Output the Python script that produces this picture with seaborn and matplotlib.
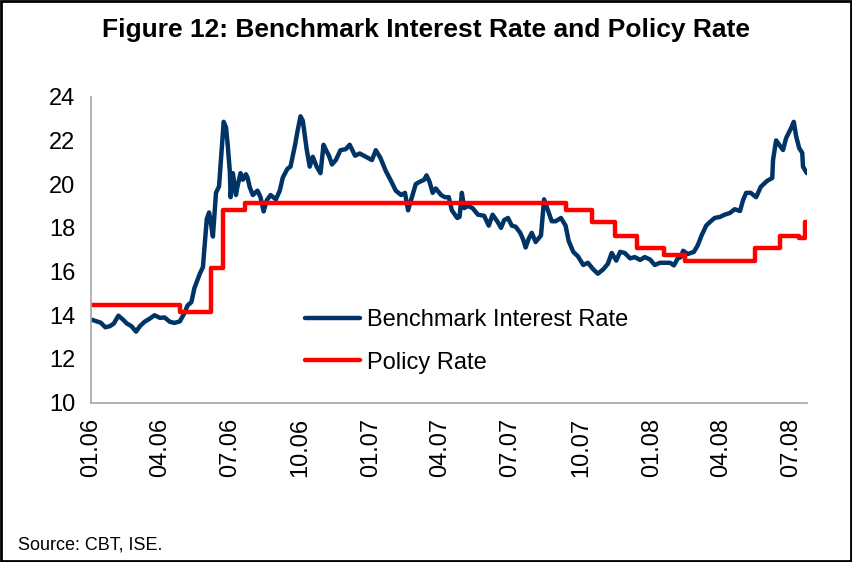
import matplotlib
matplotlib.use("Agg")
import matplotlib.pyplot as plt
import matplotlib.dates as mdates
from matplotlib.patches import Rectangle
import numpy as np
import pandas as pd
import seaborn as sns

sns.set_style("white")
plt.rcParams['font.family'] = ['Liberation Sans', 'DejaVu Sans']
plt.rcParams['text.color'] = 'black'

# benchmark bond rate
bench_dates = [
    "2006-01-02", "2006-01-06", "2006-01-14", "2006-01-20", "2006-01-26", "2006-01-31",
    "2006-02-06", "2006-02-12", "2006-02-17", "2006-02-23", "2006-03-01", "2006-03-06",
    "2006-03-12", "2006-03-19", "2006-03-25", "2006-04-01", "2006-04-07", "2006-04-14",
    "2006-04-20", "2006-04-27", "2006-05-03", "2006-05-07", "2006-05-12", "2006-05-16",
    "2006-05-23", "2006-05-27", "2006-05-29", "2006-06-01", "2006-06-04", "2006-06-06",
    "2006-06-09", "2006-06-13", "2006-06-17", "2006-06-21", "2006-06-23", "2006-06-26",
    "2006-06-28", "2006-07-01", "2006-07-02", "2006-07-05", "2006-07-09", "2006-07-11",
    "2006-07-15", "2006-07-18", "2006-07-22", "2006-07-24", "2006-07-27", "2006-07-31",
    "2006-08-06", "2006-08-10", "2006-08-14", "2006-08-18", "2006-08-23", "2006-08-30",
    "2006-09-04", "2006-09-08", "2006-09-14", "2006-09-18", "2006-09-24", "2006-09-27",
    "2006-10-01", "2006-10-04", "2006-10-07", "2006-10-09", "2006-10-13", "2006-10-17",
    "2006-10-22", "2006-10-27", "2006-10-31", "2006-11-04", "2006-11-07", "2006-11-11",
    "2006-11-16", "2006-11-22", "2006-11-29", "2006-12-04", "2006-12-11", "2006-12-17",
    "2006-12-25", "2007-01-02", "2007-01-07", "2007-01-13", "2007-01-20", "2007-01-26",
    "2007-02-02", "2007-02-09", "2007-02-14", "2007-02-18", "2007-02-23", "2007-02-28",
    "2007-03-05", "2007-03-11", "2007-03-14", "2007-03-18", "2007-03-22", "2007-03-26",
    "2007-04-02", "2007-04-07", "2007-04-12", "2007-04-16", "2007-04-23", "2007-04-26",
    "2007-04-29", "2007-05-02", "2007-05-07", "2007-05-13", "2007-05-20", "2007-05-28",
    "2007-06-03", "2007-06-08", "2007-06-14", "2007-06-19", "2007-06-23", "2007-06-28",
    "2007-07-03", "2007-07-08", "2007-07-14", "2007-07-18", "2007-07-21", "2007-07-25",
    "2007-07-29", "2007-08-03", "2007-08-10", "2007-08-14", "2007-08-19", "2007-08-24",
    "2007-08-29", "2007-09-05", "2007-09-11", "2007-09-15", "2007-09-21", "2007-09-27",
    "2007-10-04", "2007-10-10", "2007-10-17", "2007-10-23", "2007-10-30", "2007-11-05",
    "2007-11-10", "2007-11-16", "2007-11-21", "2007-11-27", "2007-12-04", "2007-12-10",
    "2007-12-17", "2007-12-23", "2007-12-30", "2008-01-05", "2008-01-12", "2008-01-18",
    "2008-01-25", "2008-01-30", "2008-02-04", "2008-02-08", "2008-02-11", "2008-02-17",
    "2008-02-25", "2008-03-01", "2008-03-06", "2008-03-12", "2008-03-17", "2008-03-23",
    "2008-03-30", "2008-04-05", "2008-04-12", "2008-04-18", "2008-04-25", "2008-04-29",
    "2008-05-03", "2008-05-09", "2008-05-16", "2008-05-22", "2008-05-30", "2008-06-06",
    "2008-06-07", "2008-06-11", "2008-06-16", "2008-06-20", "2008-06-24", "2008-07-01",
    "2008-07-04", "2008-07-07", "2008-07-11", "2008-07-15", "2008-07-16", "2008-07-21",
]
bench_rate = [
    13.80, 13.75, 13.66, 13.45, 13.50, 13.62,
    13.98, 13.80, 13.62, 13.50, 13.25, 13.50,
    13.70, 13.85, 14.00, 13.88, 13.90, 13.70,
    13.65, 13.72, 14.10, 14.45, 14.60, 15.25,
    15.90, 16.20, 17.10, 18.40, 18.70, 18.30,
    17.60, 19.60, 19.90, 21.90, 22.85, 22.60,
    21.90, 20.60, 19.40, 20.50, 19.50, 19.90,
    20.50, 20.20, 20.45, 20.30, 19.85, 19.50,
    19.70, 19.40, 18.75, 19.25, 19.50, 19.30,
    19.70, 20.30, 20.70, 20.80, 21.80, 22.40,
    23.10, 22.90, 22.10, 21.60, 20.80, 21.25,
    20.80, 20.50, 21.80, 21.50, 21.30, 20.90,
    21.10, 21.55, 21.60, 21.80, 21.30, 21.40,
    21.25, 21.10, 21.55, 21.20, 20.60, 20.20,
    19.70, 19.50, 19.60, 18.80, 19.40, 20.00,
    20.10, 20.20, 20.40, 20.10, 19.60, 19.80,
    19.50, 19.40, 19.40, 18.80, 18.45, 18.50,
    19.60, 18.90, 19.00, 18.90, 18.60, 18.55,
    18.10, 18.60, 18.30, 18.00, 18.35, 18.45,
    18.10, 18.05, 17.77, 17.45, 17.10, 17.50,
    17.77, 17.35, 17.65, 19.30, 18.80, 18.30,
    18.30, 18.45, 18.10, 17.40, 16.90, 16.70,
    16.30, 16.40, 16.10, 15.90, 16.10, 16.35,
    16.85, 16.50, 16.90, 16.85, 16.60, 16.66,
    16.53, 16.66, 16.55, 16.30, 16.40, 16.40,
    16.40, 16.28, 16.60, 16.66, 16.95, 16.80,
    16.90, 17.20, 17.65, 18.10, 18.27, 18.45,
    18.50, 18.60, 18.68, 18.85, 18.77, 19.27,
    19.60, 19.60, 19.40, 19.87, 20.14, 20.28,
    21.10, 22.00, 21.75, 21.56, 22.10, 22.60,
    22.85, 22.20, 21.65, 21.43, 20.80, 20.50,
]

# policy rate change dates and levels
policy_dates = [
    "2006-01-02", "2006-04-27", "2006-06-06", "2006-06-22", "2006-07-21",
    "2007-09-12", "2007-10-15", "2007-11-14", "2007-12-13", "2008-01-17",
    "2008-02-13", "2008-05-15", "2008-06-16", "2008-07-11", "2008-07-18",
    "2008-07-21",
]
policy_rate = [
    14.45, 14.17, 16.18, 18.82, 19.12,
    18.82, 18.25, 17.64, 17.06, 16.77,
    16.47, 17.06, 17.64, 17.54, 18.25,
    18.25,
]

bench = pd.DataFrame({"date": pd.to_datetime(bench_dates), "rate": bench_rate})
policy = pd.DataFrame({"date": pd.to_datetime(policy_dates), "rate": policy_rate})

fig = plt.figure(figsize=(8.52, 5.62), dpi=100)
ax = fig.add_axes([0.1065, 0.2835, 0.8405, 0.5445])

sns.lineplot(data=bench, x="date", y="rate", ax=ax, color="#003366",
             linewidth=3.2, label="Benchmark Interest Rate")
sns.lineplot(data=policy, x="date", y="rate", ax=ax, color="#ff0000",
             linewidth=3.2, drawstyle="steps-post", label="Policy Rate")

ax.set_xlim(pd.Timestamp("2006-01-01"), pd.Timestamp("2008-07-21"))
ax.set_ylim(10, 24)
ax.set_yticks(np.arange(10, 25, 2))
ax.xaxis.set_major_locator(mdates.MonthLocator(bymonth=[1, 4, 7, 10]))
ax.xaxis.set_major_formatter(mdates.DateFormatter("%m.%y"))
ax.set_xlabel("")
ax.set_ylabel("")

for s in ["top", "right"]:
    ax.spines[s].set_visible(False)
for s in ["left", "bottom"]:
    ax.spines[s].set_color("#a6a6a6")
    ax.spines[s].set_linewidth(1.2)
ax.tick_params(axis="both", direction="out", length=7, width=1.2,
               color="#a6a6a6", labelcolor="black", labelsize=17, pad=4)
ax.tick_params(axis="x", labelrotation=90)

leg = ax.legend(loc="center left", bbox_to_anchor=(0.27, 0.2), frameon=False,
                fontsize=17, handlelength=2.3, handletextpad=0.3, labelspacing=0.85)
for line in leg.get_lines():
    line.set_linewidth(3.2)
for t in leg.get_texts():
    t.set_color("black")

fig.text(0.5, 0.947, "Figure 12: Benchmark Interest Rate and Policy Rate",
         ha="center", va="center", fontsize=19, fontweight="bold", color="black")
fig.text(0.021, 0.03, "Source: CBT, ISE.", ha="left", va="center", fontsize=13,
         color="black")

fig.patches.append(Rectangle((0.0015, 0.002), 0.997, 0.996, transform=fig.transFigure,
                             fill=False, edgecolor="black", linewidth=2))

plt.savefig("out.png", dpi=100)
